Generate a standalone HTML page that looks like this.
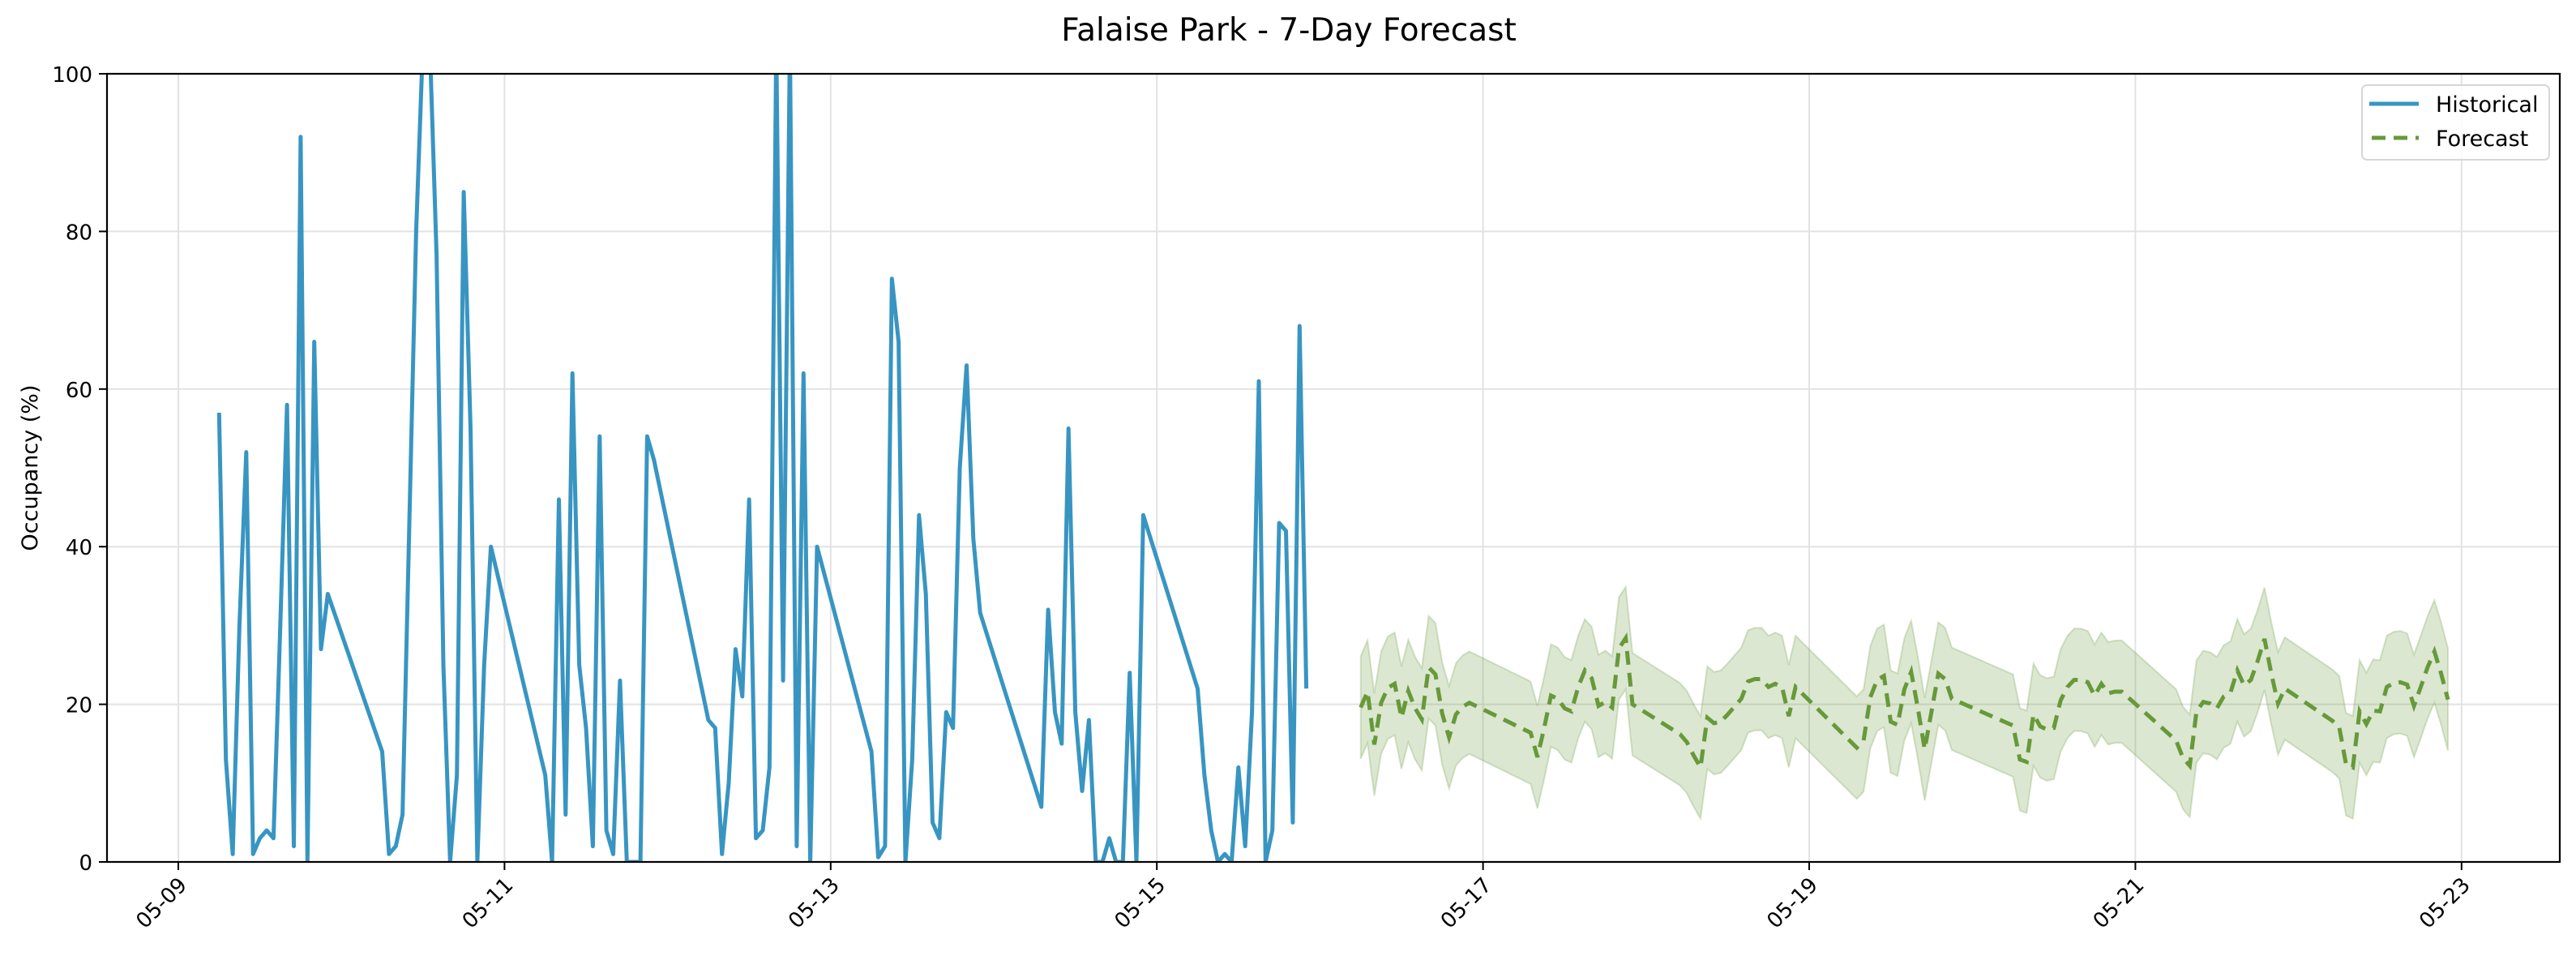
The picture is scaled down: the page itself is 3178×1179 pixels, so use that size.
<!DOCTYPE html>
<html><head><meta charset="utf-8"><style>
html,body{margin:0;padding:0;background:#fff;}
svg{display:block;font-family:"DejaVu Sans","Liberation Sans",sans-serif;}
</style></head><body>
<svg id="chart" width="3178" height="1179" viewBox="0 0 3178 1179" xmlns="http://www.w3.org/2000/svg">
<defs><clipPath id="plotclip"><rect x="132" y="91" width="3026" height="972"/></clipPath></defs>
<rect x="0" y="0" width="3178" height="1179" fill="#fff"/>
<text x="1590" y="50" font-size="39" text-anchor="middle" fill="#000">Falaise Park - 7-Day Forecast</text>
<g id="grid"></g>
<g id="series" clip-path="url(#plotclip)"></g>
<rect x="132" y="91" width="3026" height="972" fill="none" stroke="#000" stroke-width="2.2"/>
<g id="axes"></g>
<text transform="translate(46,577) rotate(-90)" font-size="27" text-anchor="middle" fill="#000">Occupancy (%)</text>
<g>
<rect x="2914" y="105" width="231" height="92" rx="6" fill="#fff" fill-opacity="0.85" stroke="#d6d6d6" stroke-width="2"/>
<line x1="2923" y1="128" x2="2984" y2="128" stroke="#3895c2" stroke-width="5"/>
<text x="3005" y="138" font-size="27" fill="#000">Historical</text>
<line x1="2926" y1="170" x2="2984" y2="170" stroke="#67993a" stroke-width="5" stroke-dasharray="17,10"/>
<text x="3005" y="180" font-size="27" fill="#000">Forecast</text>
</g>
</svg>
<script>
// hours since 05-09 00:00
const histHours = [6,7,8,9,10,11,12,13,14,15,16,17,18,19,20,21,22,
30,31,32,33,34,35,36,37,38,39,40,41,42,43,44,45,46,
54,55,56,57,58,59,60,61,62,63,64,65,66,67,68,69,70,
78,79,80,81,82,83,84,85,86,87,88,89,90,91,92,93,94,
102,103,104,105,106,107,108,109,110,111,112,113,114,115,116,117,118,
127,128,129,130,131,132,133,134,135,136,137,138,139,140,141,142,
150,151,152,153,154,155,156,157,158,159,160,161,162,163,164,165,166];
const histValues = [57,13,1,30,52,1,3,4,3,30,58,2,92,0,66,27,34,
14,1,2,6,43,80,104,104,77,25,0,11,85,55,0,25,40,
11,0,46,6,62,25,17,2,54,4,1,23,0,0,0,54,51,
18,17,1,10,27,21,46,3,4,12,104,23,104,2,62,0,40,
14,0.6,2,74,66,0,13,44,34,5,3,19,17,50,63,41,31.6,
7,32,19,15,55,19,9,18,0,0,3,0,0,24,0,44,
22,11,4,0,1,0,12,2,19,61,0,4,43,42,5,68,22];
const fcHours = [174,175,176,177,178,179,180,181,182,183,184,185,186,187,188,189,190,
199,200,201,202,203,204,205,206,207,208,209,210,211,212,213,214,
221,222,223,224,225,226,227,228,229,230,231,232,233,234,235,236,237,238,
247,248,249,250,251,252,253,254,255,256,257,258,259,260,261,
270,271,272,273,274,275,276,277,278,279,280,281,282,283,284,285,286,
294,295,296,297,298,299,300,301,302,303,304,305,306,307,308,309,310,
317,318,319,320,321,322,323,324,325,326,327,328,329,330,331,332,333,334];
const fcValues = [19.6,21.6,14.9,20.2,22.1,22.6,18.3,21.7,19.5,18.1,24.7,23.8,18.8,15.8,18.7,19.7,20.2,
16.4,13.3,17,21.1,20.7,19.5,19.1,22.2,24.3,23.3,19.8,20.3,19.6,27.1,28.4,20.0,
16.2,15.2,13.5,12,18.3,17.6,17.8,18.7,19.7,20.7,22.9,23.2,23.2,22.2,22.6,22.2,18.5,22.2,
14.5,15.4,20.9,23.1,23.6,17.8,17.4,21.9,24.1,19.5,14.3,19.1,23.9,23.2,20.7,
17.3,13,12.7,18.7,17.2,16.8,17,20.5,22.2,23.1,23.1,22.8,21.1,22.6,21.4,21.6,21.6,
15.4,13.2,12.2,19.1,20.3,20.1,19.5,21,21.5,24.3,22.4,23.1,25.5,28.3,23.9,20.1,22,
17.9,17.1,12.4,12,19.1,17.5,19.2,19.1,22.2,22.7,22.8,22.5,19.8,22.2,24.7,26.7,23.9,20.6];
const ciHalfWidth = [6.5];
const yTicks = [0,20,40,60,80,100];
const xTickDays = [9,11,13,15,17,19,21,23];
const xTickLabels = ["05-09","05-11","05-13","05-15","05-17","05-19","05-21","05-23"];

const NS = "http://www.w3.org/2000/svg";
const X0 = 220, PX_PER_DAY = 201.2, YB = 1063, YT = 91, PL = 132, PR = 3158;
function xDay(d){ return X0 + (d - 9) * PX_PER_DAY; }
function xHour(h){ return X0 + h * PX_PER_DAY / 24; }
function yVal(v){ return YB - v * (YB - YT) / 100; }
function mk(tag, attrs, parent){ const e = document.createElementNS(NS, tag); for (const k in attrs) e.setAttribute(k, attrs[k]); parent.appendChild(e); return e; }

const grid = document.getElementById('grid');
const axes = document.getElementById('axes');
const series = document.getElementById('series');

yTicks.forEach(t => {
  const y = yVal(t);
  const g = mk('line', {x1: PL, x2: PR, y1: y, y2: y, stroke: '#e2e2e2', 'stroke-width': 2}, grid);
  
  
  const tk = mk('line', {x1: PL - 10, x2: PL, y1: y, y2: y, stroke: '#000', 'stroke-width': 2}, axes);
  
  
  const tx = mk('text', {x: PL - 18, y: y + 10, 'font-size': 26, 'text-anchor': 'end', fill: '#000'}, axes);
  tx.textContent = String(t);
  
  
});
xTickDays.forEach((d, i) => {
  const x = xDay(d);
  const g = mk('line', {x1: x, x2: x, y1: YT, y2: YB, stroke: '#e2e2e2', 'stroke-width': 2}, grid);
  
  
  const tk = mk('line', {x1: x, x2: x, y1: YB, y2: YB + 10, stroke: '#000', 'stroke-width': 2}, axes);
  
  
  const tx = mk('text', {transform: 'translate(' + (x + 12) + ',' + (YB + 30) + ') rotate(-45)', 'font-size': 26, 'text-anchor': 'end', fill: '#000'}, axes);
  tx.textContent = xTickLabels[i];
  
  
});

let up = [], lo = [];
fcHours.forEach((h, i) => {
  up.push(xHour(h).toFixed(1) + ',' + yVal(fcValues[i] + ciHalfWidth[0]).toFixed(1));
  lo.unshift(xHour(h).toFixed(1) + ',' + yVal(fcValues[i] - ciHalfWidth[0]).toFixed(1));
});
const band = mk('polygon', {points: up.concat(lo).join(' '), fill: '#67993a', 'fill-opacity': 0.24, stroke: '#67993a', 'stroke-opacity': 0.25, 'stroke-width': 2}, series);



const hp = histHours.map((h, i) => xHour(h).toFixed(1) + ',' + yVal(histValues[i]).toFixed(1)).join(' ');
const hl = mk('polyline', {points: hp, fill: 'none', stroke: '#3895c2', 'stroke-width': 5, 'stroke-linejoin': 'round'}, series);



const fp = fcHours.map((h, i) => xHour(h).toFixed(1) + ',' + yVal(fcValues[i]).toFixed(1)).join(' ');
const fl = mk('polyline', {points: fp, fill: 'none', stroke: '#67993a', 'stroke-width': 5, 'stroke-dasharray': '17,10'}, series);


</script>
</body></html>
